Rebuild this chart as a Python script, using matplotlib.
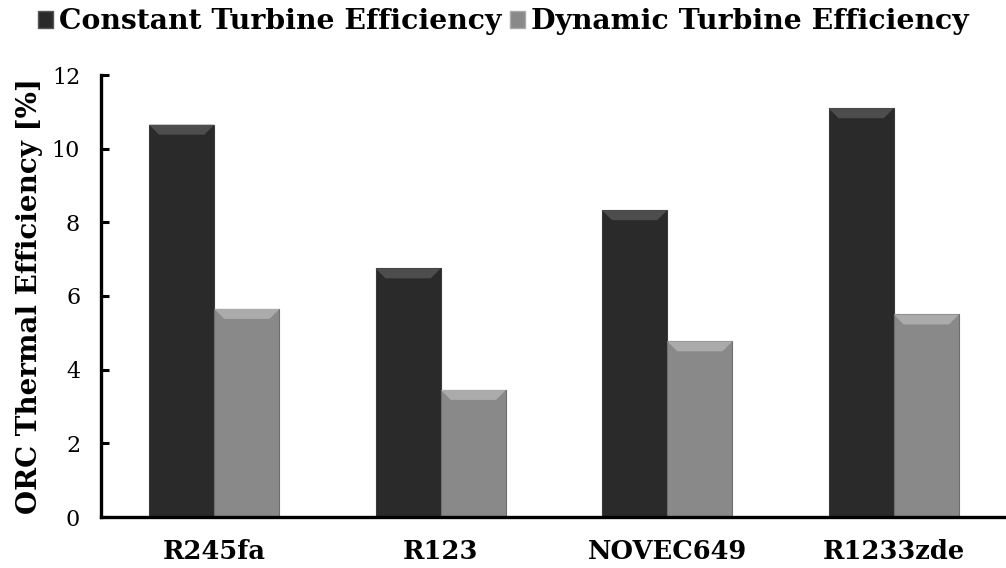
import matplotlib.pyplot as plt
from matplotlib.patches import Polygon, Patch
import numpy as np

fluids = ['R245fa', 'R123', 'NOVEC649', 'R1233zde']
constant_eff = [10.65, 6.75, 8.33, 11.1]
dynamic_eff = [5.65, 3.45, 4.77, 5.5]

plt.rcParams['font.family'] = ['DejaVu Serif']

fig = plt.figure(figsize=(10.06, 5.68), dpi=100)
ax = fig.add_axes([101 / 1006, 51 / 568, 906 / 1006, 442 / 568])

x = np.arange(len(fluids))
w = 0.288
b1 = ax.bar(x - w / 2, constant_eff, w, color='#2a2a2a', edgecolor='#3a3a3a', linewidth=0.8, zorder=2)
b2 = ax.bar(x + w / 2, dynamic_eff, w, color='#898989', edgecolor='#6e6e6e', linewidth=0.8, zorder=2)

ax.set_xlim(-0.5, 3.5)
ax.set_ylim(0, 12)
ax.set_yticks(range(0, 13, 2))
ax.set_xticks(x)
ax.set_xticklabels(fluids, fontsize=18.5, fontweight='bold')
ax.tick_params(axis='y', direction='in', length=6, width=2.2, labelsize=16, pad=15)
ax.tick_params(axis='x', length=0, pad=16)
for s in ['top', 'right']:
    ax.spines[s].set_visible(False)
for s in ['left', 'bottom']:
    ax.spines[s].set_linewidth(2.4)
ax.set_ylabel('ORC Thermal Efficiency [%]', fontsize=20, fontweight='bold', labelpad=6)

# bevel on top of each bar, ~10 px deep
px_x = ax.transData.transform((1, 0))[0] - ax.transData.transform((0, 0))[0]
px_y = ax.transData.transform((0, 1))[1] - ax.transData.transform((0, 0))[1]
dx, dy = 10 / px_x, 10 / px_y
for bars, top_c in [(b1, '#4d4d4d'), (b2, '#ababab')]:
    for r in bars:
        x0, wd, h = r.get_x(), r.get_width(), r.get_height()
        ax.add_patch(Polygon([(x0, h), (x0 + wd, h), (x0 + wd - dx, h - dy), (x0 + dx, h - dy)],
                             closed=True, facecolor=top_c, edgecolor='none', zorder=3))

handles = [Patch(facecolor='#2a2a2a', edgecolor='#555555'), Patch(facecolor='#898989', edgecolor='#aaaaaa')]
fig.legend(handles, ['Constant Turbine Efficiency', 'Dynamic Turbine Efficiency'], loc='upper center',
           bbox_to_anchor=(0.5, 1.03), ncol=2, frameon=False, handlelength=0.55, handleheight=0.55,
           handletextpad=0.2, columnspacing=0.3, prop={'size': 20.3, 'weight': 'bold'})

fig.savefig('out.png', dpi=100)
